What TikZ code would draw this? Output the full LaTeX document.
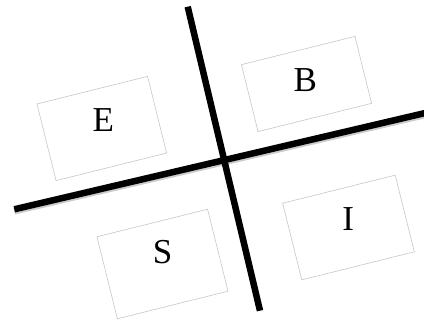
\documentclass[tikz,border=0pt]{standalone}
\usepackage{fontspec}
\setmainfont{Liberation Serif}
\begin{document}
\begin{tikzpicture}[x=1pt,y=-1pt,
  quadbox/.style={draw=black!22,line width=0.6pt,rectangle,rotate=14,inner sep=0pt},
  letter/.style={font=\fontsize{35}{35}\selectfont,inner sep=0pt},
  axisline/.style={line width=6.5pt,black}]
\useasboundingbox (0,0) rectangle (424,320);
\fill[white] (0,0) rectangle (424,320);
% boxes
\node[quadbox,minimum width=114pt,minimum height=79pt] (boxE) at (101.8,128.5) {};
\node[quadbox,minimum width=117pt,minimum height=69pt] (boxB) at (306.5,84) {};
\node[quadbox,minimum width=114pt,minimum height=84.5pt] (boxS) at (162.5,264) {};
\node[quadbox,minimum width=116pt,minimum height=79pt] (boxI) at (348.5,227.5) {};
% labels
\node[letter] (E) at (103.3,120) {E};
\node[letter] (B) at (305.3,80) {B};
\node[letter] (S) at (162.7,252.5) {S};
\node[letter] (I) at (348.3,219) {I};
% axes
\coordinate (vtop) at (187.7,6.7);
\coordinate (vbot) at (260,310.7);
\coordinate (hleft) at (14.3,209.3);
\coordinate (hright) at (426,112.8);
\draw[line width=6.5pt,black!20] ([yshift=-2pt]hleft) -- ([yshift=-2pt]hright);
\draw[axisline] (vtop) -- (vbot);
\draw[axisline] (hleft) -- (hright);
\end{tikzpicture}
\end{document}
